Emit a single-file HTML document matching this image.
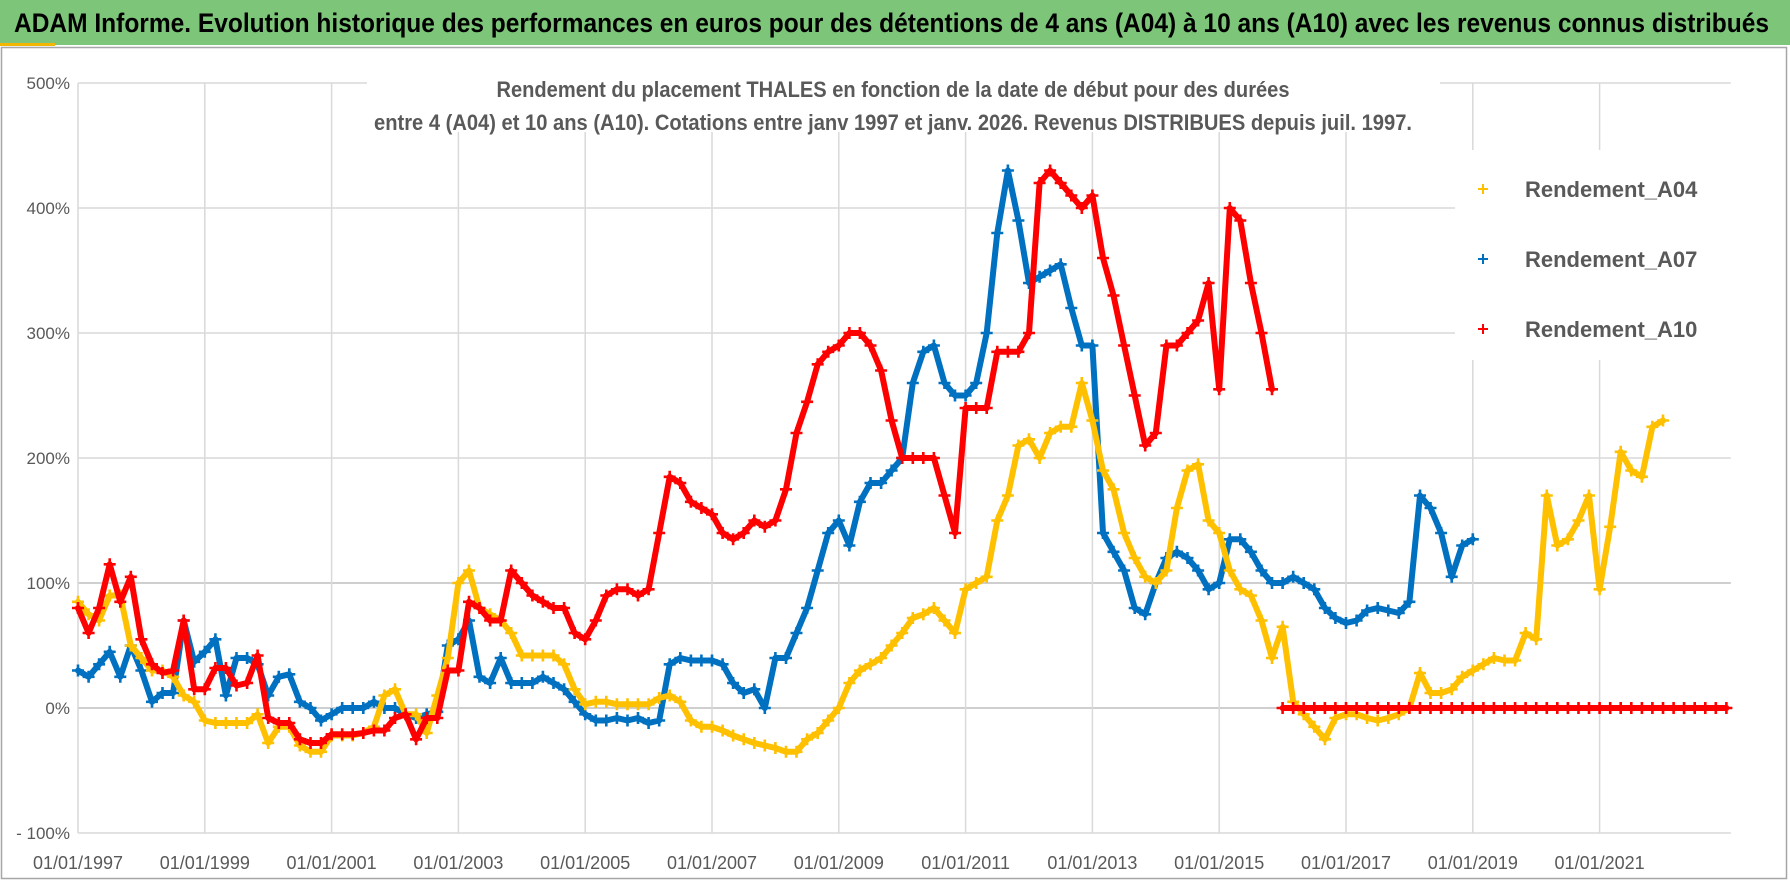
<!DOCTYPE html>
<html><head><meta charset="utf-8"><style>
html,body{margin:0;padding:0;background:#fff;}
svg{display:block;font-family:"Liberation Sans Narrow","Liberation Sans",sans-serif;}
</style></head><body>
<svg id="chart" width="1790" height="887" viewBox="0 0 1790 887" xmlns="http://www.w3.org/2000/svg">
<rect x="0" y="0" width="1790" height="887" fill="#fff"/>
<rect x="0" y="0" width="1790" height="45" fill="#7dc679"/>
<rect x="0" y="43" width="55" height="3" fill="#f2b705"/>
<text x="14" y="32" font-size="27" font-weight="bold" fill="#000" textLength="1755" lengthAdjust="spacingAndGlyphs">ADAM Informe. Evolution historique des performances en euros pour des détentions de 4 ans (A04) à 10 ans (A10) avec les revenus connus distribués</text>
<rect x="1.5" y="47.5" width="1785" height="831" fill="none" stroke="#a6a6a6" stroke-width="1.5"/>
<g id="grid"></g>
<rect x="367" y="60" width="1073" height="72" fill="#fff"/>
<text x="893" y="97" text-anchor="middle" font-size="22" font-weight="bold" fill="#595959" textLength="793" lengthAdjust="spacingAndGlyphs">Rendement du placement THALES en fonction de la date de début pour des durées</text>
<text x="893" y="130" text-anchor="middle" font-size="22" font-weight="bold" fill="#595959" textLength="1038" lengthAdjust="spacingAndGlyphs">entre 4 (A04) et 10 ans (A10). Cotations entre janv 1997 et janv. 2026. Revenus DISTRIBUES depuis juil. 1997.</text>
<rect x="1455" y="150" width="300" height="210" fill="#fff"/>
<g id="axes"></g>
<g id="series"></g>
<g id="legend"></g>
</svg>
<script>
// ---- data (percent values, one every 2 months starting Jan 1997) ----
const startYear = 1997;
const stepYears = 1/6;
const yTicks = [-100, 0, 100, 200, 300, 400, 500];
const yTickLabels = ["- 100%", "0%", "100%", "200%", "300%", "400%", "500%"];
const xTickYears = [1997, 1999, 2001, 2003, 2005, 2007, 2009, 2011, 2013, 2015, 2017, 2019, 2021];
const xTickLabels = ["01/01/1997","01/01/1999","01/01/2001","01/01/2003","01/01/2005","01/01/2007","01/01/2009","01/01/2011","01/01/2013","01/01/2015","01/01/2017","01/01/2019","01/01/2021"];
const seriesNames = ["Rendement_A04", "Rendement_A07", "Rendement_A10"];
const rendementA04 = [
 85,75,70,90,90,50, 40,30,30,25,10,5, -10,-12,-12,-12,-12,-5, -28,-15,-15,-30,-35,-35,
 -22,-22,-22,-20,-15,10, 15,-5,-5,-20,10,40, 100,110,80,75,70,60, 42,42,42,42,35,15,
 3,5,5,3,3,3, 3,8,10,5,-10,-15, -15,-18,-22,-25,-28,-30, -32,-35,-35,-25,-20,-10,
 0,20,30,35,40,50, 60,72,75,80,70,60, 95,100,105,150,170,210, 215,200,220,225,225,260,
 230,190,175,140,120,105, 100,110,160,190,195,150, 140,110,95,90,70,40, 65,5,-5,-15,-25,-8,
 -5,-5,-8,-10,-8,-5, 0,28,12,12,15,25, 30,35,40,38,38,60, 55,170,130,135,150,170,
 95,145,205,190,185,225, 230];
const rendementA07 = [
 30,25,35,45,25,50, 30,5,12,12,70,37, 45,55,10,40,40,35, 10,25,27,5,0,-10,
 -5,0,0,0,5,0, 0,-5,-8,-5,-3,50, 55,70,25,20,40,20, 20,20,25,20,15,5,
 -5,-10,-10,-8,-10,-8, -12,-10,35,40,38,38, 38,35,20,12,15,0, 40,40,60,80,110,140,
 150,130,165,180,180,190, 200,260,285,290,260,250, 250,260,300,380,430,390, 340,345,350,355,320,290,
 290,140,125,110,80,75, 100,120,125,120,110,95, 100,135,135,125,110,100, 100,105,100,95,80,72,
 68,70,78,80,78,76, 85,170,160,140,105,130, 135];
const rendementA10 = [
 80,60,80,115,85,105, 55,35,28,30,70,15, 15,32,32,18,20,42, -8,-12,-12,-25,-28,-28,
 -21,-21,-21,-20,-18,-18, -8,-5,-25,-8,-8,30, 30,85,80,70,70,110, 100,90,85,80,80,60,
 55,70,90,95,95,90, 95,140,185,180,165,160, 155,140,135,140,150,145, 150,175,220,245,275,285,
 290,300,300,290,270,230, 200,200,200,200,170,140, 240,240,240,285,285,285, 300,420,430,420,410,400,
 410,360,330,290,250,210, 220,290,290,300,310,340, 255,400,390,340,300,255];
const a10ZeroStart = 2016;
const rendementA10Zero = [0,0,0,0,0,0, 0,0,0,0,0,0, 0,0,0,0,0,0, 0,0,0,0,0,0, 0,0,0,0,0,0, 0,0,0,0,0,0, 0,0,0,0,0,0, 0];

// ---- scales ----
const X0 = 78, PX_PER_YEAR = 63.4;
const Y0 = 708, PX_PER_PCT = 1.25;
const xScale = yr => X0 + (yr - 1997) * PX_PER_YEAR;
const yScale = v => Y0 - v * PX_PER_PCT;
const NS = "http://www.w3.org/2000/svg";
function mk(tag, attrs, parent){ const e=document.createElementNS(NS,tag); for(const k in attrs) e.setAttribute(k,attrs[k]); parent.appendChild(e); return e; }

const grid = document.getElementById('grid');
const axes = document.getElementById('axes');
const plotRight = xScale(2023.07);
yTicks.forEach((t,i)=>{
  const l = mk('line',{x1:X0,x2:plotRight,y1:yScale(t),y2:yScale(t),stroke:(t===100||t===0)?'#bfbfbf':'#d9d9d9','stroke-width':1.5},grid);
  
  
  const tx = mk('text',{x:X0-8,y:yScale(t)+6,'text-anchor':'end','font-size':17,fill:'#595959'},axes);
  tx.textContent = yTickLabels[i];
  
  
});
xTickYears.forEach((yr,i)=>{
  const l = mk('line',{x1:xScale(yr),x2:xScale(yr),y1:yScale(500),y2:yScale(-100),stroke:'#d9d9d9','stroke-width':1.5},grid);
  
  
  const tx = mk('text',{x:xScale(yr),y:869,'text-anchor':'middle','font-size':18,fill:'#595959'},axes);
  tx.textContent = xTickLabels[i];
  
  
});

const seriesG = document.getElementById('series');
function drawSeries(values, start, color, name){
  const g = mk('g',{},seriesG);
  
  
  const pts = values.map((v,i)=>[xScale(start+i*stepYears), yScale(v)]);
  const pl = mk('polyline',{points:pts.map(p=>p[0].toFixed(1)+','+p[1].toFixed(1)).join(' '),fill:'none',stroke:color,'stroke-width':6,'stroke-linejoin':'round','stroke-linecap':'round'},g);
  
  
  let d='';
  pts.forEach(p=>{ d+=`M${(p[0]-6).toFixed(1)} ${p[1].toFixed(1)}h12M${p[0].toFixed(1)} ${(p[1]-6).toFixed(1)}v12`; });
  const m = mk('path',{d:d,stroke:color,'stroke-width':2.6,fill:'none'},g);
  
  
}
drawSeries(rendementA07, startYear, '#0070c0', 'series-a07');
drawSeries(rendementA04, startYear, '#ffc000', 'series-a04');
drawSeries(rendementA10, startYear, '#ff0000', 'series-a10');
drawSeries(rendementA10Zero, a10ZeroStart, '#ff0000', 'series-a10-zero');

const legend = document.getElementById('legend');
const legendColors = ['#ffc000','#0070c0','#ff0000'];
const legendY = [189, 259, 329];
seriesNames.forEach((n,i)=>{
  const g = mk('g',{},legend);
  
  
  const x=1483, y=legendY[i];
  mk('path',{d:`M${x-5} ${y}h10M${x} ${y-5}v10`,stroke:legendColors[i],'stroke-width':2},g);
  const t = mk('text',{x:1525,y:y+8,'font-size':22,'font-weight':'bold',fill:'#595959'},g);
  t.textContent = n;
});
</script>
</body></html>
